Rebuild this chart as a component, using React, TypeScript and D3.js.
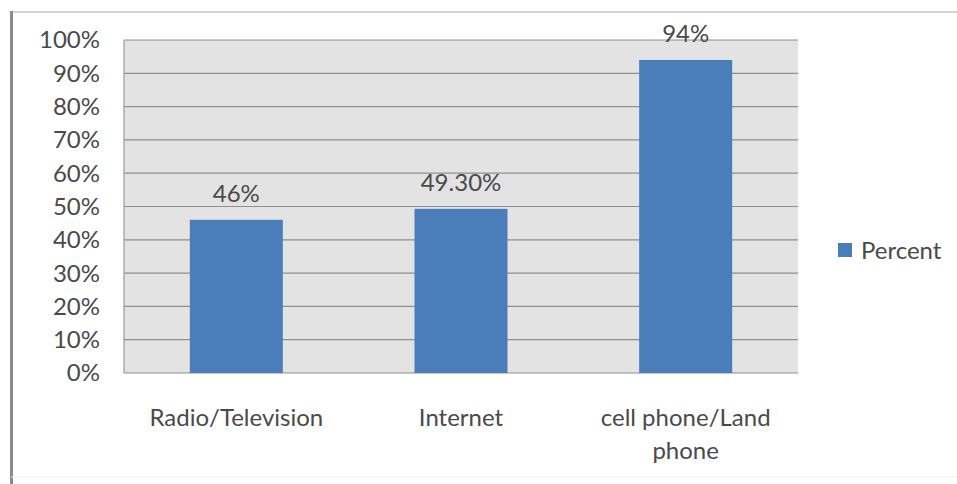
import React from "react";
import * as d3 from "d3";

const categories = ["Radio/Television", "Internet", "cell phone/Land phone"];
const categoryLines = [["Radio/Television"], ["Internet"], ["cell phone/Land", "phone"]];
const values = [46, 49.3, 94];
const valueLabels = ["46%", "49.30%", "94%"];
const yTicks = [0, 10, 20, 30, 40, 50, 60, 70, 80, 90, 100];
const seriesName = "Percent";

const W = 957;
const H = 484;
const FONT = "Lato, 'Open Sans', sans-serif";
const FS = 24;
const TXT = "#4a4a4a";

export default function App() {
  const left = 124, right = 798, top = 40, bottom = 373;
  const x = d3.scaleBand<string>().domain(categories).range([left, right]);
  const y = d3.scaleLinear().domain([0, 100]).range([bottom, top]);
  const bw = 93;
  return (
    <svg width={W} height={H} style={{ position: "absolute", left: 0, top: 0, background: "#fff" }}>
      <line x1={11} y1={12} x2={W} y2={12} stroke="#c4c4c4" strokeWidth={1.5} />
      <line x1={11.5} y1={11} x2={11.5} y2={H} stroke="#8a8a8a" strokeWidth={3} />
      <line x1={11} y1={477} x2={W} y2={477} stroke="#f0f0f0" strokeWidth={1} />
      <rect x={left} y={top} width={right - left} height={bottom - top} fill="#e3e3e3" />
      {yTicks.map((t) => (
        <line key={t} x1={left} x2={right} y1={y(t)} y2={y(t)} stroke="#8f8f8f" strokeWidth={1.2} />
      ))}
      <line x1={left} x2={left} y1={top} y2={bottom} stroke="#9a9a9a" strokeWidth={1.2} />
      {yTicks.map((t) => (
        <text key={t} x={100} y={y(t)} dy="0.35em" textAnchor="end" fontFamily={FONT} fontSize={FS} fill={TXT}>
          {t}%
        </text>
      ))}
      {categories.map((c, i) => {
        const cx = (x(c) as number) + x.bandwidth() / 2;
        return (
          <g key={c}>
            <rect x={cx - bw / 2} y={y(values[i])} width={bw} height={bottom - y(values[i])} fill="#4a7ebb" />
            <text x={cx} y={y(values[i]) - 18} textAnchor="middle" fontFamily={FONT} fontSize={FS} fill={TXT}>
              {valueLabels[i]}
            </text>
            {categoryLines[i].map((ln, j) => (
              <text key={j} x={cx} y={426 + j * 33} textAnchor="middle" fontFamily={FONT} fontSize={FS} fill={TXT}>
                {ln}
              </text>
            ))}
          </g>
        );
      })}
      <rect x={838} y={243} width={14} height={14} fill="#4a7ebb" />
      <text x={861} y={251} dy="0.35em" fontFamily={FONT} fontSize={FS} fill={TXT}>
        {seriesName}
      </text>
    </svg>
  );
}
